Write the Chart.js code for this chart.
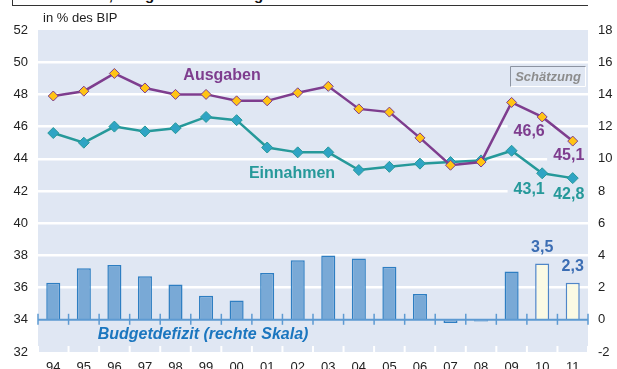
<!DOCTYPE html>
<html>
<head>
<meta charset="utf-8">
<script src="https://cdn.jsdelivr.net/npm/chart.js@4.4.1/dist/chart.umd.min.js"></script>
<style>
 html, body { margin:0; padding:0; background:#ffffff; overflow:hidden; }
 #cadre { position:relative; width:617px; height:380px; }
 #titre { position:absolute; left:12px; top:-14px; width:576px; height:20px; box-sizing:border-box;
          border-left:1.5px solid #333; border-bottom:1.5px solid #333;
          font:bold 15px "Liberation Sans", Arial, sans-serif; color:#111;
          padding-left:15px; padding-top:1px; line-height:16px; white-space:nowrap; }
 #graphe { position:absolute; left:0; top:0; }
</style>
</head>
<body>
<div id="cadre">
 <div id="titre">Einnahmen, Ausgaben und Budgetdefizit</div>
 <canvas id="graphe" width="617" height="380"></canvas>
</div>
<script>
/******************************************* Données (in % des BIP) ***********************************************************/
 var Jahre      = ["94","95","96","97","98","99","00","01","02","03","04","05","06","07","08","09","10","11"];
 var Ausgaben   = [47.9,48.2,49.3,48.4,48.0,48.0,47.6,47.6,48.1,48.5,47.1,46.9,45.3,43.6,43.8,47.5,46.6,45.1];
 var Einnahmen  = [45.6,45.0,46.0,45.7,45.9,46.6,46.4,44.7,44.4,44.4,43.3,43.5,43.7,43.8,43.9,44.5,43.1,42.8];
 var Defizit    = [2.3,3.2,3.4,2.7,2.2,1.5,1.2,2.9,3.7,4.0,3.8,3.3,1.6,-0.2,-0.1,3.0,3.5,2.3];
 var Schaetzung = [false,false,false,false,false,false,false,false,false,false,false,false,false,false,false,false,true,true];
 var Skala_links  = { min: 32, max: 52, pas: 2 };
 var Skala_rechts = { min: -2, max: 18, pas: 2 };

 var POLICE   = '"Liberation Sans", Arial, sans-serif';
 var FOND     = "#e0e7f3";
 var VIOLET   = "#7e3d8e";
 var TURQUOISE= "#26999a";
 var BLEU     = "#1b76bf";

 function Format_valeur ( v ) { return( v.toFixed(1).replace(".", ",") ); }

/******************************************* Fond, axe zéro, étiquettes *******************************************************/
 var Decor = {
   id: "decor",
   beforeDraw: function ( chart )
    { var ctx = chart.ctx, a = chart.chartArea;
      ctx.save();
      ctx.fillStyle = FOND;
      ctx.fillRect( a.left, a.top, a.right-a.left, a.bottom-a.top );
      ctx.restore();
    },
   beforeDatasetsDraw: function ( chart )
    { var ctx = chart.ctx, x = chart.scales.x, a = chart.chartArea;
      var n = Jahre.length;
      var pas = x.getPixelForValue(1)-x.getPixelForValue(0);
      ctx.save();
      ctx.beginPath(); ctx.rect( a.left, a.top, a.right-a.left, a.bottom-a.top ); ctx.clip();
      ctx.font = "bold 16px " + POLICE;
      ctx.fillStyle = FOND;                              /* les valeurs des courbes masquent la grille */
      Etiquettes(chart).forEach( function (e)
       { if (!e.masque) return;
         var w = ctx.measureText(e.texte).width;
         ctx.fillRect( e.x - w/2 - 6, e.y - 9, w + 12, 18 );
       });
      /* petits traits blancs en bas entre les années */
      ctx.strokeStyle = "#ffffff"; ctx.lineWidth = 2;
      for (var i=0; i<=n; i++)
       { var px = x.getPixelForValue(0) + (i-0.5)*pas;
         ctx.beginPath(); ctx.moveTo( px, a.bottom - 6 ); ctx.lineTo( px, a.bottom ); ctx.stroke();
       }
      ctx.restore();
    },
   afterDatasetsDraw: function ( chart )
    { var ctx = chart.ctx, x = chart.scales.x, yr = chart.scales.y1, a = chart.chartArea;
      var n = Jahre.length;
      var y0 = yr.getPixelForValue(0);
      var pas = x.getPixelForValue(1)-x.getPixelForValue(0);
      ctx.save();
      ctx.strokeStyle = "#5d9ad2"; ctx.lineWidth = 2;           /* ligne zéro du budget */
      ctx.beginPath(); ctx.moveTo( a.left, y0 ); ctx.lineTo( a.right, y0 ); ctx.stroke();
      ctx.lineWidth = 1.5;
      for (var i=0; i<=n; i++)
       { var px = x.getPixelForValue(0) + (i-0.5)*pas;
         ctx.beginPath(); ctx.moveTo( px, y0 - 6 ); ctx.lineTo( px, y0 + 5 ); ctx.stroke();
       }

      ctx.textAlign = "center"; ctx.textBaseline = "middle";
      ctx.font = "bold 16px " + POLICE;
      Etiquettes(chart).forEach( function (e)
       { ctx.fillStyle = e.couleur; ctx.fillText( e.texte, e.x, e.y ); });

      ctx.fillStyle = VIOLET;    ctx.fillText( "Ausgaben",  222, 76 );
      ctx.fillStyle = TURQUOISE; ctx.fillText( "Einnahmen", 292, 174 );
      ctx.fillStyle = BLEU;
      ctx.font = "italic bold 16px " + POLICE;
      ctx.fillText( "Budgetdefizit (rechte Skala)", 203, 335 );

      /* cadre Schätzung, effet relief */
      ctx.lineWidth = 1;
      ctx.strokeStyle = "#ffffff";
      ctx.beginPath(); ctx.moveTo( 585.5, 66.5 ); ctx.lineTo( 585.5, 86.5 ); ctx.lineTo( 510.5, 86.5 ); ctx.stroke();
      ctx.strokeStyle = "#8d94a1";
      ctx.beginPath(); ctx.moveTo( 510.5, 86.5 ); ctx.lineTo( 510.5, 66.5 ); ctx.lineTo( 585.5, 66.5 ); ctx.stroke();
      ctx.fillStyle = "#8c8c8c";
      ctx.font = "italic bold 13px " + POLICE;
      ctx.fillText( "Schätzung", 548, 77 );

      ctx.fillStyle = "#222222";
      ctx.font = "13px " + POLICE;
      ctx.textAlign = "left";
      ctx.fillText( "in % des BIP", 43, 18 );
      ctx.restore();
    }
 };

/******************************************* Valeurs affichées (estimations) **************************************************/
 function Etiquettes ( chart )
  { var x = chart.scales.x, yl = chart.scales.y, yr = chart.scales.y1;
    var liste = [];
    for (var i=0; i<Jahre.length; i++)
     { if (!Schaetzung[i]) continue;
       var px = x.getPixelForValue(i);
       var dx = (i==Jahre.length-1 ? -4 : -13);
       liste.push( { texte: Format_valeur(Ausgaben[i]),  couleur: VIOLET,    masque: true,
                     x: px+dx, y: yl.getPixelForValue(Ausgaben[i]) + 15 } );
       liste.push( { texte: Format_valeur(Einnahmen[i]), couleur: TURQUOISE, masque: true,
                     x: px+dx, y: yl.getPixelForValue(Einnahmen[i]) + 16 } );
       liste.push( { texte: Format_valeur(Defizit[i]),   couleur: "#3b6db3", masque: false,
                     x: px,    y: yr.getPixelForValue(Defizit[i]) - 16 } );
     }
    return(liste);
  }

/******************************************* Graphe ***************************************************************************/
 Chart.defaults.font.family = POLICE;
 Chart.defaults.font.size = 13;
 Chart.defaults.color = "#222222";

 var data = { labels: Jahre,
              datasets: [
               { type: "line", label: "Ausgaben", data: Ausgaben, yAxisID: "y", order: 0,
                 borderColor: VIOLET, borderWidth: 2.5, tension: 0,
                 pointStyle: "rectRot", pointRadius: 5, pointBackgroundColor: "#ffc414",
                 pointBorderColor: VIOLET, pointBorderWidth: 1 },
               { type: "line", label: "Einnahmen", data: Einnahmen, yAxisID: "y", order: 1,
                 borderColor: TURQUOISE, borderWidth: 2.5, tension: 0,
                 pointStyle: "rectRot", pointRadius: 5.5, pointBackgroundColor: "#2fa4c4",
                 pointBorderColor: TURQUOISE, pointBorderWidth: 1 },
               { type: "bar", label: "Budgetdefizit", data: Defizit, yAxisID: "y1", order: 2,
                 backgroundColor: Schaetzung.map( function(s) { return( s ? "#fbfae4" : "#79a9d6" ); } ),
                 borderColor: Schaetzung.map( function(s) { return( s ? "#4f86c8" : "#2e7ec2" ); } ),
                 borderWidth: 1.5, borderSkipped: "start",
                 barPercentage: 0.46, categoryPercentage: 1 }
              ]
            };

 var options = { responsive: false, animation: false, devicePixelRatio: 1,
                 layout: { padding: { top: 30, left: 0, right: 0, bottom: 0 } },
                 plugins: { legend: { display: false }, tooltip: { enabled: false } },
                 scales: {
                   x: { offset: true,
                        grid: { display: false, drawTicks: false },
                        border: { display: false },
                        ticks: { padding: 8, maxRotation: 0, autoSkip: false },
                        afterFit: function (s) { s.height = 28; } },
                   y: { position: "left", min: Skala_links.min, max: Skala_links.max,
                        ticks: { stepSize: Skala_links.pas, padding: 10 },
                        grid: { drawTicks: false, lineWidth: 2.5,
                                color: function (c) { var v = c.tick.value;
                                                      return( (v>=36 && v<=50) ? "#ffffff" : "rgba(0,0,0,0)" ); } },
                        border: { display: false },
                        afterFit: function (s) { s.width = 38; } },
                   y1: { position: "right", min: Skala_rechts.min, max: Skala_rechts.max,
                         ticks: { stepSize: Skala_rechts.pas, padding: 10 },
                         grid: { drawOnChartArea: false, drawTicks: false },
                         border: { display: false },
                         afterFit: function (s) { s.width = 29; } }
                 }
               };

 new Chart( document.getElementById("graphe"), { type: "bar", data: data, options: options, plugins: [ Decor ] } );
</script>
</body>
</html>
